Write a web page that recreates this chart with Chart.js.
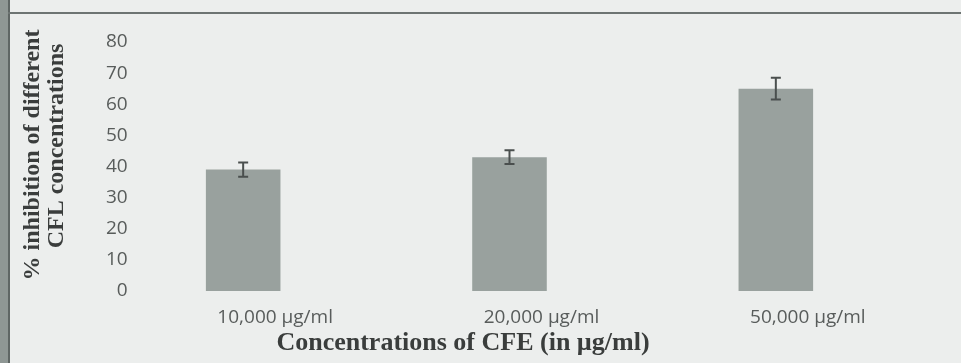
<!DOCTYPE html>
<html>
<head>
<meta charset="utf-8">
<script src="https://cdn.jsdelivr.net/npm/chart.js@4"></script>
<style>
    html, body { margin: 0; padding: 0; background: #eceeed; }
    #wrap { position: relative; width: 961px; height: 363px; overflow: hidden; }
    #strip { position: absolute; left: 0; top: 0; width: 8px; height: 363px; background: #8f9794; border-right: 2px solid #5f6664; }
    #topline { position: absolute; left: 8px; top: 12px; width: 953px; height: 2px; background: #6d7472; }
    canvas { position: absolute; left: 0; top: 0; }
</style>
</head>
<body>
<div id="wrap">
    <canvas id="chart" width="961" height="363"></canvas>
    <div id="strip"></div>
    <div id="topline"></div>
</div>
<script>
const categories = ['10,000 µg/ml', '20,000 µg/ml', '50,000 µg/ml'];
const inhibition = [39, 43, 65];
const errors = [2.3, 2.2, 3.5];
const yTitleLines = ['% inhibition of different', 'CFL concentrations'];
const xTitle = 'Concentrations of CFE (in µg/ml)';

// draws the +/- error whiskers on top of each bar
const errorBars = {
    id: 'errorBars',
    afterDatasetsDraw(chart) {
        const ctx = chart.ctx;
        const y = chart.scales.y;
        const meta = chart.getDatasetMeta(0);
        ctx.save();
        ctx.strokeStyle = '#4a4f4e';
        ctx.lineWidth = 2;
        meta.data.forEach((bar, i) => {
            const top = y.getPixelForValue(inhibition[i] + errors[i]);
            const bottom = y.getPixelForValue(inhibition[i] - errors[i]);
            const cap = 5;
            ctx.beginPath();
            ctx.moveTo(bar.x, top);
            ctx.lineTo(bar.x, bottom);
            ctx.moveTo(bar.x - cap, top);
            ctx.lineTo(bar.x + cap, top);
            ctx.moveTo(bar.x - cap, bottom);
            ctx.lineTo(bar.x + cap, bottom);
            ctx.stroke();
        });
        ctx.restore();
    }
};

// axis titles: the scan puts them off-centre, so place them by hand
const axisTitles = {
    id: 'axisTitles',
    afterDraw(chart) {
        const ctx = chart.ctx;
        ctx.save();
        ctx.fillStyle = '#3a3d3c';
        ctx.textAlign = 'center';
        ctx.textBaseline = 'middle';

        ctx.font = 'bold 24px "Liberation Serif"';
        const spots = [[33, 155], [57, 146]];
        yTitleLines.forEach((line, i) => {
            ctx.save();
            ctx.translate(spots[i][0], spots[i][1]);
            ctx.rotate(-Math.PI / 2);
            ctx.fillText(line, 0, 0);
            ctx.restore();
        });

        ctx.font = 'bold 26px "Liberation Serif"';
        ctx.fillText(xTitle, 463, 343);
        ctx.restore();
    }
};

new Chart(document.getElementById('chart').getContext('2d'), {
    type: 'bar',
    data: {
        labels: categories,
        datasets: [{
            data: inhibition,
            backgroundColor: '#99a19e',
            borderWidth: 0,
            categoryPercentage: 1,
            barPercentage: 0.28
        }]
    },
    options: {
        responsive: false,
        animation: false,
        layout: { padding: { top: 42, right: 52, bottom: 2, left: 0 } },
        plugins: {
            legend: { display: false },
            tooltip: { enabled: false }
        },
        scales: {
            x: {
                grid: { display: false, drawTicks: false },
                border: { display: false },
                ticks: {
                    color: '#585c5b',
                    font: { family: 'Open Sans', size: 19 },
                    padding: 15,
                    labelOffset: 32
                },
                afterFit(scale) { scale.height = 70; }
            },
            y: {
                min: 0,
                max: 80,
                grid: { display: false, drawTicks: false },
                border: { display: false },
                ticks: {
                    stepSize: 10,
                    mirror: true,
                    crossAlign: 'far',
                    color: '#585c5b',
                    font: { family: 'Open Sans', size: 19 },
                    padding: -4
                },
                afterFit(scale) { scale.width = 110; }
            }
        }
    },
    plugins: [errorBars, axisTitles]
});
</script>
</body>
</html>
